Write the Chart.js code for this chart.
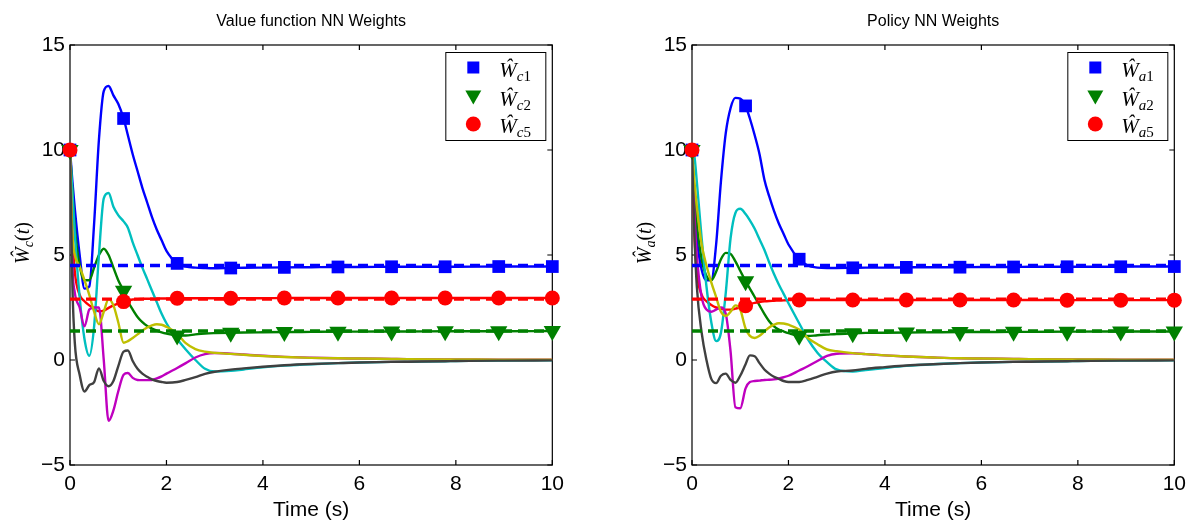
<!DOCTYPE html>
<html>
<head>
<meta charset="utf-8">
<script src="https://cdn.jsdelivr.net/npm/chart.js@4.4.0/dist/chart.umd.min.js"></script>
<style>
html, body { margin: 0; padding: 0; background: #fff; }
.panel { position: absolute; top: 0; width: 571px; height: 527px; }
#left { left: 0; }
#right { left: 622px; }
</style>
</head>
<body>
<div class="panel" id="left"><canvas id="critic" width="571" height="527"></canvas></div>
<div class="panel" id="right"><canvas id="actor" width="571" height="527"></canvas></div>
<script>
// sample times (s), markers every 10/9 s
const time = [0, 0.05, 0.1, 0.2, 0.3, 0.4, 0.5, 0.6, 0.7, 0.8,
  0.9, 1.0, 1.111, 1.2, 1.3, 1.4, 1.5, 1.6, 1.7, 1.8,
  1.9, 2.0, 2.222, 2.4, 2.6, 2.8, 3.0, 3.333, 3.6, 4.0,
  4.444, 5.0, 5.556, 6.0, 6.667, 7.0, 7.778, 8.0, 8.889, 9.0,
  10]
const markerTimes = [0, 1.111, 2.222, 3.333, 4.444, 5.556, 6.667, 7.778, 8.889, 10]
const xTicks = [0, 2, 4, 6, 8, 10]
const yTicks = [-5, 0, 5, 10, 15]

// ideal weights (dashed)
const idealW1 = 4.5
const idealW2 = 1.38
const idealW5 = 2.9

// value function (critic) weights
const criticW1 = [10, 8.5, 7.2, 5.0, 3.4, 3.5, 6.5, 10.5, 12.8, 13.05,
  12.6, 12.2, 11.5, 10.7, 9.8, 9.0, 8.2, 7.5, 6.8, 6.2,
  5.7, 5.2, 4.6, 4.45, 4.4, 4.38, 4.37, 4.38, 4.39, 4.4,
  4.41, 4.42, 4.43, 4.43, 4.44, 4.44, 4.44, 4.44, 4.45, 4.45,
  4.45]
const criticW2 = [10, 8.0, 6.3, 4.5, 3.8, 3.8, 4.4, 5.0, 5.3, 5.0,
  4.4, 3.8, 3.3, 2.8, 2.4, 2.05, 1.8, 1.62, 1.5, 1.4,
  1.32, 1.26, 1.17, 1.17, 1.22, 1.26, 1.28, 1.3, 1.31, 1.32,
  1.33, 1.34, 1.35, 1.35, 1.36, 1.36, 1.37, 1.37, 1.37, 1.37,
  1.38]
const criticW5 = [10, 6.0, 4.2, 3.1, 2.8, 2.6, 2.45, 2.32, 2.35, 2.48,
  2.6, 2.7, 2.78, 2.84, 2.88, 2.9, 2.91, 2.92, 2.92, 2.93,
  2.93, 2.93, 2.94, 2.94, 2.94, 2.94, 2.94, 2.94, 2.94, 2.94,
  2.95, 2.95, 2.95, 2.95, 2.95, 2.95, 2.95, 2.95, 2.95, 2.95,
  2.95]
const criticCyan = [10, 8.0, 6.0, 3.0, 1.0, 0.2, 1.6, 5.0, 7.7, 7.95,
  7.3, 6.9, 6.6, 6.3, 5.6, 5.0, 4.4, 3.85, 3.3, 2.75,
  2.2, 1.75, 1.0, 0.5, 0.0, -0.42, -0.55, -0.52, -0.45, -0.35,
  -0.27, -0.2, -0.15, -0.12, -0.09, -0.08, -0.06, -0.05, -0.03, -0.03,
  -0.01]
const criticMagenta = [10, 4.5, 3.2, 2.5, 1.6, 2.4, 2.5, 2.5, 0.0, -2.9,
  -2.4, -1.5, -0.7, -0.62, -0.85, -0.95, -0.96, -0.96, -0.95, -0.88,
  -0.78, -0.65, -0.38, -0.15, 0.12, 0.28, 0.33, 0.3, 0.26, 0.2,
  0.15, 0.11, 0.08, 0.07, 0.05, 0.04, 0.03, 0.03, 0.02, 0.02,
  0.01]
const criticYellow = [10, 6.0, 5.0, 4.45, 3.8, 3.1, 2.3, 1.7, 2.3, 2.9,
  2.6, 1.8, 0.82, 0.9, 1.05, 1.22, 1.4, 1.55, 1.65, 1.7,
  1.68, 1.58, 1.25, 0.8, 0.52, 0.4, 0.34, 0.29, 0.25, 0.19,
  0.14, 0.1, 0.08, 0.07, 0.05, 0.04, 0.03, 0.03, 0.02, 0.02,
  0.01]
const criticGray = [10, 3.5, 0.8, -0.7, -1.5, -1.2, -1.05, -0.4, -1.0, -1.25,
  -1.0, -0.3, 0.4, 0.45, -0.05, -0.42, -0.65, -0.8, -0.92, -1.0,
  -1.05, -1.08, -1.05, -0.95, -0.82, -0.66, -0.56, -0.46, -0.4, -0.32,
  -0.25, -0.19, -0.15, -0.12, -0.09, -0.08, -0.06, -0.05, -0.03, -0.03,
  -0.02]

// policy (actor) weights
const actorW1 = [10, 7.5, 5.8, 4.3, 3.8, 3.8, 5.5, 8.5, 10.8, 12.0,
  12.48, 12.45, 12.1, 11.5, 10.7, 9.8, 8.6, 7.8, 7.1, 6.5,
  6.0, 5.5, 4.8, 4.5, 4.4, 4.38, 4.38, 4.39, 4.4, 4.4,
  4.41, 4.42, 4.42, 4.43, 4.43, 4.44, 4.44, 4.44, 4.44, 4.45,
  4.45]
const actorW2 = [10, 8.0, 6.5, 4.8, 4.0, 3.8, 4.2, 4.8, 5.1, 5.05,
  4.7, 4.25, 3.75, 3.4, 3.0, 2.6, 2.2, 1.85, 1.6, 1.45,
  1.36, 1.28, 1.15, 1.14, 1.18, 1.21, 1.24, 1.27, 1.29, 1.3,
  1.31, 1.32, 1.33, 1.33, 1.34, 1.34, 1.35, 1.35, 1.36, 1.36,
  1.36]
const actorW5 = [10, 6.0, 4.2, 3.1, 2.8, 2.62, 2.5, 2.45, 2.4, 2.4,
  2.45, 2.5, 2.58, 2.66, 2.72, 2.76, 2.79, 2.81, 2.82, 2.83,
  2.84, 2.85, 2.86, 2.86, 2.86, 2.86, 2.86, 2.86, 2.86, 2.86,
  2.86, 2.86, 2.86, 2.86, 2.86, 2.86, 2.85, 2.85, 2.85, 2.85,
  2.85]
const actorCyan = [10, 9.7, 8.5, 5.8, 3.5, 1.8, 0.9, 1.3, 3.2, 5.8,
  7.0, 7.2, 6.95, 6.65, 6.25, 5.75, 5.25, 4.65, 4.1, 3.6,
  3.15, 2.7, 1.75, 1.0, 0.35, -0.1, -0.45, -0.55, -0.48, -0.38,
  -0.28, -0.2, -0.15, -0.12, -0.09, -0.08, -0.06, -0.05, -0.03, -0.03,
  -0.01]
const actorMagenta = [10, 7.0, 5.0, 3.0, 2.4, 2.3, 2.4, 2.5, 2.2, 0.4,
  -2.25, -2.3, -1.35, -1.05, -1.0, -0.98, -0.95, -0.94, -0.92, -0.88,
  -0.82, -0.75, -0.5, -0.3, -0.05, 0.2, 0.3, 0.32, 0.28, 0.22,
  0.17, 0.12, 0.08, 0.07, 0.05, 0.04, 0.03, 0.03, 0.02, 0.02,
  0.01]
const actorYellow = [10, 8.5, 7.3, 5.5, 4.5, 3.7, 3.0, 2.3, 2.1, 2.3,
  2.6, 2.4, 1.5, 1.15, 1.05, 1.15, 1.35, 1.55, 1.68, 1.75,
  1.74, 1.68, 1.45, 1.05, 0.75, 0.5, 0.42, 0.33, 0.28, 0.22,
  0.17, 0.12, 0.08, 0.07, 0.05, 0.04, 0.03, 0.03, 0.02, 0.02,
  0.01]
const actorGray = [10, 6.0, 3.5, 1.3, 0.0, -0.9, -1.1, -0.75, -0.65, -0.95,
  -1.08, -0.75, -0.2, 0.22, 0.18, -0.15, -0.45, -0.65, -0.8, -0.9,
  -1.0, -1.05, -1.05, -0.95, -0.8, -0.65, -0.55, -0.5, -0.42, -0.34,
  -0.26, -0.2, -0.15, -0.12, -0.09, -0.08, -0.06, -0.05, -0.03, -0.03,
  -0.02]

const BLUE = '#0000ff', GREEN = '#008000', RED = '#ff0000'
const CYAN = '#00bfbf', MAGENTA = '#bf00bf', YELLOW = '#bfbf00', GRAY = '#404040'
const SANS = '"Liberation Sans", Arial, sans-serif'
const SERIF = '"Liberation Serif", "DejaVu Serif", serif'

Chart.defaults.color = '#000'

const pts = vals => time.map((t, i) => ({ x: t, y: vals[i] }))
const markerPts = vals => markerTimes.map(mt => {
    const i = time.findIndex(t => Math.abs(t - mt) < 0.01)
    return { x: time[i], y: vals[i] }
})
const flat = v => [{ x: 0, y: v }, { x: 10, y: v }]

const curve = (vals, color) => ({
    data: pts(vals), borderColor: color, borderWidth: 2.4,
    pointRadius: 0, cubicInterpolationMode: 'monotone'
})
const dashed = (v, color) => ({
    data: flat(v), borderColor: color, borderWidth: 3.4,
    borderDash: [10, 6], pointRadius: 0
})
const markers = (vals, color, style, r, rot) => ({
    data: markerPts(vals), showLine: false, clip: false,
    pointStyle: style, pointRadius: r, pointRotation: rot || 0,
    pointBackgroundColor: color, pointBorderWidth: 0, borderColor: color
})

// W-hat with subscript, drawn left to right from (x, y) baseline
function drawW(ctx, x, y, letter, index, size, tail) {
    ctx.font = 'italic ' + size + 'px ' + SERIF
    ctx.fillText('\u0174', x, y)
    x += ctx.measureText('\u0174').width
    const sub = Math.round(size * 0.7)
    ctx.font = 'italic ' + sub + 'px ' + SERIF
    ctx.fillText(letter, x, y + size * 0.2)
    x += ctx.measureText(letter).width
    if (index) {
        ctx.font = sub + 'px ' + SERIF
        ctx.fillText(index, x, y + size * 0.2)
        x += ctx.measureText(index).width
    }
    if (tail) {
        ctx.font = size + 'px ' + SERIF
        ctx.fillText('(', x, y); x += ctx.measureText('(').width
        ctx.font = 'italic ' + size + 'px ' + SERIF
        ctx.fillText('t', x, y); x += ctx.measureText('t').width
        ctx.font = size + 'px ' + SERIF
        ctx.fillText(')', x, y); x += ctx.measureText(')').width
    }
    return x
}

function wWidth(ctx, letter, index, size, tail) {
    ctx.save()
    ctx.globalAlpha = 0
    const w = drawW(ctx, 0, 0, letter, index, size, tail)
    ctx.restore()
    return w
}

const framePlugin = {
    id: 'frame',
    beforeDatasetsDraw(chart) {
        const { ctx, chartArea: a, scales: { x, y } } = chart
        ctx.save()
        ctx.strokeStyle = '#000'
        ctx.lineWidth = 1.2
        ctx.strokeRect(a.left, a.top, a.width, a.height)
        ctx.beginPath()
        xTicks.forEach(v => {
            const px = x.getPixelForValue(v)
            ctx.moveTo(px, a.bottom); ctx.lineTo(px, a.bottom - 5)
            ctx.moveTo(px, a.top); ctx.lineTo(px, a.top + 5)
        })
        yTicks.forEach(v => {
            const py = y.getPixelForValue(v)
            ctx.moveTo(a.left, py); ctx.lineTo(a.left + 5, py)
            ctx.moveTo(a.right, py); ctx.lineTo(a.right - 5, py)
        })
        ctx.stroke()
        ctx.restore()
    },
    afterDraw(chart, args, opts) {
        const { ctx, chartArea: a } = chart
        ctx.save()
        ctx.fillStyle = '#000'
        // title
        ctx.font = '16px ' + SANS
        ctx.textAlign = 'center'
        ctx.textBaseline = 'middle'
        ctx.fillText(opts.title, (a.left + a.right) / 2, 22)
        ctx.textAlign = 'left'
        ctx.textBaseline = 'alphabetic'

        // y label, rotated
        ctx.save()
        ctx.translate(29, 243)
        ctx.rotate(-Math.PI / 2)
        const w = wWidth(ctx, opts.sym, '', 20, true)
        drawW(ctx, -w / 2, 0, opts.sym, '', 20, true)
        ctx.restore()

        // legend
        const bx = a.right - 107, by = a.top + 7
        ctx.fillStyle = '#fff'
        ctx.fillRect(bx, by, 100, 88)
        ctx.strokeStyle = '#000'
        ctx.lineWidth = 1
        ctx.strokeRect(bx + 0.5, by + 0.5, 100, 88)
        const mx = bx + 28
        const rows = [by + 15.5, by + 44.5, by + 72]
        ctx.fillStyle = BLUE
        ctx.fillRect(mx - 6, rows[0] - 6, 12, 12)
        ctx.fillStyle = GREEN
        ctx.beginPath()
        ctx.moveTo(mx - 8, rows[1] - 6); ctx.lineTo(mx + 8, rows[1] - 6); ctx.lineTo(mx, rows[1] + 8)
        ctx.closePath(); ctx.fill()
        ctx.fillStyle = RED
        ctx.beginPath(); ctx.arc(mx, rows[2], 7.5, 0, Math.PI * 2); ctx.fill()
        ctx.fillStyle = '#000'
        ;['1', '2', '5'].forEach((n, i) => drawW(ctx, bx + 54, rows[i] + 9, opts.sym, n, 21, false))
        ctx.restore()
    }
}

function makeChart(id, title, sym, s) {
    return new Chart(document.getElementById(id), {
        type: 'line',
        data: {
            datasets: [
                markers(s.w5, RED, 'circle', 7.5),
                markers(s.w2, GREEN, 'triangle', 10, 180),
                markers(s.w1, BLUE, 'rect', 9),
                dashed(idealW5, RED),
                dashed(idealW2, GREEN),
                dashed(idealW1, BLUE),
                curve(s.gray, GRAY),
                curve(s.yellow, YELLOW),
                curve(s.magenta, MAGENTA),
                curve(s.cyan, CYAN),
                curve(s.w5, RED),
                curve(s.w2, GREEN),
                curve(s.w1, BLUE)
            ]
        },
        options: {
            responsive: false,
            animation: false,
            layout: { padding: { left: 0, right: 18, top: 45, bottom: 0 } },
            plugins: {
                legend: { display: false },
                tooltip: { enabled: false },
                frame: { title: title, sym: sym }
            },
            scales: {
                x: {
                    type: 'linear', min: 0, max: 10,
                    afterBuildTicks: sc => { sc.ticks = xTicks.map(v => ({ value: v })) },
                    afterFit: sc => { sc.height = 62 },
                    grid: { display: false, drawTicks: false },
                    border: { display: false },
                    ticks: { font: { family: SANS, size: 21 }, padding: 7, maxRotation: 0 },
                    title: { display: true, text: 'Time (s)', font: { family: SANS, size: 21 }, padding: { top: 0, bottom: 4 } }
                },
                y: {
                    type: 'linear', min: -5, max: 15,
                    afterBuildTicks: sc => { sc.ticks = yTicks.map(v => ({ value: v })) },
                    afterFit: sc => { sc.width = 70 },
                    grid: { display: false, drawTicks: false },
                    border: { display: false },
                    ticks: { font: { family: SANS, size: 21 }, padding: 5, callback: v => String(v).replace('-', '\u2212') }
                }
            }
        },
        plugins: [framePlugin]
    })
}

makeChart('critic', 'Value function NN Weights', 'c', {
    w1: criticW1, w2: criticW2, w5: criticW5,
    cyan: criticCyan, magenta: criticMagenta, yellow: criticYellow, gray: criticGray
})
makeChart('actor', 'Policy NN Weights', 'a', {
    w1: actorW1, w2: actorW2, w5: actorW5,
    cyan: actorCyan, magenta: actorMagenta, yellow: actorYellow, gray: actorGray
})
</script>
</body>
</html>
